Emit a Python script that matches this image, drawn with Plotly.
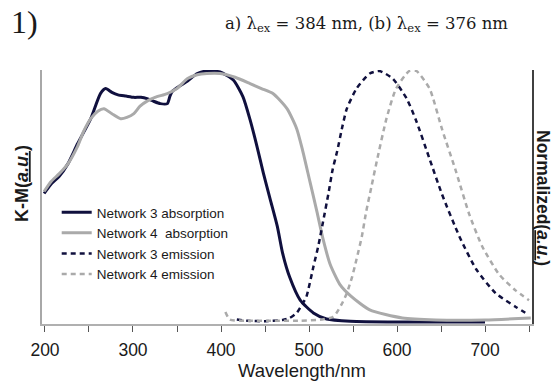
import plotly.graph_objects as go

# Network 3 absorption (K-M)
abs3_wl = [199, 207, 216, 226, 237, 252, 263, 269, 276, 283, 292, 301, 309, 316, 323, 331, 339, 342, 345,
           353, 362, 373, 384, 399, 414, 425, 433, 441, 448, 456, 464, 470, 478, 490, 505, 520, 547, 600, 650, 700]
abs3_v = [0.512, 0.55, 0.58, 0.63, 0.71, 0.81, 0.91, 0.93, 0.915, 0.905, 0.90, 0.895, 0.895, 0.89, 0.88, 0.87,
          0.87, 0.90, 0.92, 0.94, 0.96, 0.99, 1.0, 0.996, 0.964, 0.897, 0.806, 0.698, 0.595, 0.488, 0.381, 0.274,
          0.179, 0.087, 0.036, 0.012, 0.003, 0.0, 0.0, 0.0]

# Network 4 absorption (K-M)
abs4_wl = [199, 207, 216, 226, 237, 244, 252, 260, 267, 276, 286, 293, 301, 308, 316, 325, 339, 350, 362, 373,
           384, 399, 416, 433, 446, 459, 475, 486, 493, 501, 509, 516, 524, 535, 547, 569, 606, 644, 700, 752]
abs4_v = [0.52, 0.56, 0.59, 0.63, 0.70, 0.76, 0.81, 0.84, 0.85, 0.83, 0.81, 0.815, 0.83, 0.86, 0.88, 0.895, 0.91,
          0.93, 0.97, 0.985, 0.99, 0.99, 0.975, 0.95, 0.93, 0.91, 0.85, 0.77, 0.68, 0.56, 0.44, 0.33, 0.23, 0.15,
          0.105, 0.048, 0.016, 0.008, 0.008, 0.016]

# Network 3 emission (normalized)
em3_wl = [418, 430, 450, 470, 478, 486, 493, 497, 505, 511, 516, 522, 527, 532, 538, 543, 554, 569, 580, 595,
          611, 622, 637, 651, 671, 690, 712, 735, 750]
em3_v = [0.01, 0.005, 0.003, 0.008, 0.016, 0.036, 0.075, 0.10, 0.22, 0.31, 0.40, 0.51, 0.61, 0.68, 0.78, 0.85,
         0.93, 0.99, 1.0, 0.97, 0.89, 0.80, 0.65, 0.51, 0.34, 0.21, 0.115, 0.06, 0.028]

# Network 4 emission (normalized)
em4_wl = [405, 410, 430, 460, 490, 515, 527, 531, 537, 543, 549, 554, 560, 565, 571, 577, 588, 599, 614, 622,
          637, 651, 667, 682, 697, 716, 735, 750]
em4_v = [0.04, 0.01, 0.005, 0.005, 0.005, 0.01, 0.02, 0.035, 0.07, 0.115, 0.18, 0.25, 0.34, 0.44, 0.54, 0.64,
         0.81, 0.93, 1.0, 1.0, 0.93, 0.77, 0.60, 0.43, 0.30, 0.19, 0.125, 0.087]

x_ticks = [200, 300, 400, 500, 600, 700]

NAVY = "#10103e"
GRAY = "#aaaaaa"

fig = go.Figure()
fig.add_trace(go.Scatter(x=abs3_wl, y=abs3_v, mode="lines", name="Network 3 absorption",
                         line=dict(color=NAVY, width=3, shape="spline", smoothing=0.6)))
fig.add_trace(go.Scatter(x=abs4_wl, y=abs4_v, mode="lines", name="Network 4  absorption",
                         line=dict(color=GRAY, width=3, shape="spline", smoothing=0.6)))
fig.add_trace(go.Scatter(x=em3_wl, y=em3_v, mode="lines", name="Network 3 emission",
                         line=dict(color=NAVY, width=2.5, dash="5px,4px", shape="spline", smoothing=0.6)))
fig.add_trace(go.Scatter(x=em4_wl, y=em4_v, mode="lines", name="Network 4 emission",
                         line=dict(color=GRAY, width=2.5, dash="5px,4px", shape="spline", smoothing=0.6)))

fig.update_layout(
    width=553, height=381,
    margin=dict(l=42, r=21, t=70, b=57),
    paper_bgcolor="white", plot_bgcolor="white",
    font=dict(family="Liberation Sans, Arial, sans-serif", color="#1a1a1a"),
    showlegend=True,
    legend=dict(x=0.03, y=0.50, xanchor="left", yanchor="top",
                font=dict(size=13.5, color="#1a1a1a"), bgcolor="rgba(0,0,0,0)",
                tracegroupgap=0, itemwidth=30),
    xaxis=dict(range=[196.6, 753.4], tickvals=x_ticks, ticktext=[str(v) for v in x_ticks],
               showgrid=False, zeroline=False, showline=True, linecolor="#b0b0b0", linewidth=2,
               ticks="outside", ticklen=6, tickcolor="#555555", tickwidth=1,
               ticklabelstandoff=3,
               tickfont=dict(size=17.5, color="#1a1a1a"),
               minor=dict(dtick=50, tick0=200, ticks="outside", ticklen=6, tickcolor="#555555", tickwidth=1),
               mirror=False),
    yaxis=dict(range=[-0.008, 1.004], showticklabels=False, showgrid=False, zeroline=False,
               showline=True, linecolor="#a8a8a8", linewidth=2, ticks=""),
    yaxis2=dict(range=[-0.008, 1.004], overlaying="y", side="right", showticklabels=False,
                showgrid=False, zeroline=False, showline=True, linecolor="#404040", linewidth=1.5, ticks=""),
)

# invisible trace so the right-hand axis is drawn
fig.add_trace(go.Scatter(x=[None], y=[None], yaxis="y2", showlegend=False, hoverinfo="skip"))

fig.add_annotation(text="Wavelength/nm", xref="paper", yref="paper", x=0.531, y=-0.185,
                   xanchor="center", yanchor="middle", showarrow=False, font=dict(size=18.5, color="#1a1a1a"))
fig.add_annotation(text="<b>K-M(<i><u>a.u.</u></i>)</b>", xref="paper", yref="paper", x=-0.041, y=0.555,
                   xanchor="center", yanchor="middle", textangle=-90, showarrow=False,
                   font=dict(size=18, color="#1a1a1a"))
fig.add_annotation(text="<b>Normalized(<i><u>a.u.</u></i>)</b>", xref="paper", yref="paper", x=1.0225, y=0.496,
                   xanchor="center", yanchor="middle", textangle=90, showarrow=False,
                   font=dict(size=17.5, color="#1a1a1a"))
fig.add_annotation(text="1)", xref="paper", yref="paper", x=-0.067, y=1.19,
                   xanchor="left", yanchor="middle", showarrow=False,
                   font=dict(size=32, family="Liberation Serif, serif", color="#1a1a1a"))
fig.add_annotation(text="a) λ<sub>ex</sub> = 384 nm, (b) λ<sub>ex</sub> = 376 nm", xref="paper", yref="paper",
                   x=0.663, y=1.18, xanchor="center", yanchor="middle", showarrow=False,
                   font=dict(size=16.5, family="DejaVu Serif, serif", color="#1a1a1a"))

fig.write_html("out.html", config={"displayModeBar": False},
               post_script="document.body.style.margin='0';")
